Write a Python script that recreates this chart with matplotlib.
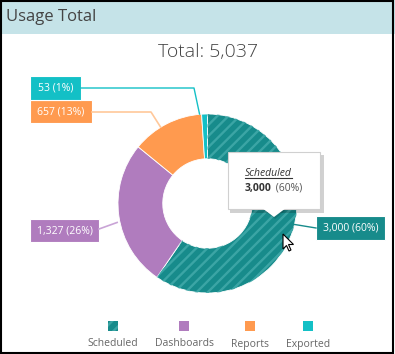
import matplotlib
matplotlib.use("Agg")
import matplotlib.pyplot as plt
from matplotlib.patches import Rectangle, Polygon, Wedge
import numpy as np

# data
categories = ["Scheduled", "Dashboards", "Reports", "Exported"]
values = [3000, 1327, 657, 53]
colors = ["#178b8b", "#b07cbe", "#ff9a4f", "#13c0c6"]
label_text = ["3,000 (60%)", "1,327 (26%)", "657 (13%)", "53 (1%)"]
total_text = "Total: 5,037"

plt.rcParams['font.family'] = ['Open Sans', 'DejaVu Sans']
plt.rcParams['hatch.linewidth'] = 1.7

W, H = 395, 354
fig = plt.figure(figsize=(W / 100, H / 100), dpi=100)

# background layer in pixel coordinates
bg = fig.add_axes([0, 0, 1, 1], zorder=0)
bg.set_xlim(0, W)
bg.set_ylim(H, 0)
bg.axis("off")
bg.add_patch(Rectangle((0, 0), W, 34, facecolor="#c5e3e8", edgecolor="none"))
bg.text(6, 17, "Usage Total", fontsize=12, color="#444444", va="center", ha="left")
bg.text(208, 52, total_text, fontsize=14, color="#444444", va="center", ha="center",
        fontweight="light")

# donut
cx, cy, R = 207.5, 203.5, 89.5
m = 1.05
pax = fig.add_axes([(cx - R * m) / W, (H - cy - R * m) / H, 2 * R * m / W, 2 * R * m / H], zorder=1)
wedges, _ = pax.pie(values, colors=colors, startangle=90, counterclock=False,
                    radius=1, wedgeprops=dict(width=0.5, edgecolor="white", linewidth=0.6))
# stripes on Scheduled
w0 = wedges[0]
hatch = Wedge(w0.center, w0.r, w0.theta1, w0.theta2, width=w0.width,
              facecolor="none", edgecolor="#3ba5a5", linewidth=0, hatch="///")
pax.add_patch(hatch)
pax.set_xlim(-m, m)
pax.set_ylim(-m, m)
pax.set_aspect("auto")
pax.axis("off")

# top layer in pixel coordinates
top = fig.add_axes([0, 0, 1, 1], zorder=2)
top.set_xlim(0, W)
top.set_ylim(H, 0)
top.axis("off")
top.patch.set_alpha(0)

to_px = pax.transData + top.transData.inverted()


def anchor(i, r=1.0):
    w = wedges[i]
    a = np.deg2rad((w.theta1 + w.theta2) / 2)
    return to_px.transform((r * np.cos(a), r * np.sin(a)))


line_colors = ["#178b8b", "#c9a4d6", "#ffc89a", "#13c0c6"]
boxes = [  # x, y, w, h
    (316, 216, 69, 24),
    (30, 219, 69, 23),
    (30, 100, 62, 23),
    (30, 76, 51, 24),
]
# leader lines
a0 = anchor(0, 1.02)
top.plot([a0[0], 316], [a0[1] - 6, 228], color=line_colors[0], lw=1)
a1 = anchor(1, 1.02)
top.plot([99, a1[0]], [229, a1[1] + 6], color=line_colors[1], lw=1.2)
a2 = anchor(2, 1.0)
top.plot([92, 151, a2[0] - 6], [112, 112, a2[1] + 3], color=line_colors[2], lw=1.2)
a3 = anchor(3, 1.0)
top.plot([81, 194, a3[0] - 5], [88, 88, a3[1]], color=line_colors[3], lw=1)

for (x, y, w, h), c, t in zip(boxes, colors, label_text):
    top.add_patch(Rectangle((x, y), w, h, facecolor=c, edgecolor="white", linewidth=0.8))
    top.text(x + w / 2, y + h / 2 + 0.5, t, color="white", fontsize=7.5, ha="center", va="center")

# tooltip
tx, ty, tw, th = 228, 152, 92, 57
top.add_patch(Rectangle((tx + 2, ty + 3), tw + 2, th + 1, facecolor="#000000", alpha=0.18,
                        edgecolor="none"))
top.add_patch(Polygon([[263, ty + th], [287, ty + th], [275, 219]], closed=True,
                      facecolor="#000000", alpha=0.15, edgecolor="none"))
top.add_patch(Rectangle((tx, ty), tw, th, facecolor="white", edgecolor="#d0d0d0", linewidth=0.8))
top.add_patch(Polygon([[262, ty + th - 1], [286, ty + th - 1], [274, 217]], closed=True,
                      facecolor="white", edgecolor="none"))
s = top.text(245, 176, "Scheduled", fontsize=7.5, style="italic", color="#333333",
             ha="left", va="baseline")
b = top.text(245, 191, "3,000", fontsize=7.5, fontweight="bold", color="#333333",
             ha="left", va="baseline")
fig.canvas.draw()
r = fig.canvas.get_renderer()
inv = top.transData.inverted()
se = inv.transform(s.get_window_extent(r))
top.plot([se[0][0], se[1][0]], [177.5, 177.5], color="#333333", lw=0.8)
be = inv.transform(b.get_window_extent(r))
top.text(be[1][0] + 1.5, 191, " (60%)", fontsize=7.5, color="#555555", ha="left", va="baseline")

# mouse cursor
cur = np.array([[0, 0], [0, 15], [3.5, 11.5], [6, 17], [8, 16], [5.5, 10.5], [10.5, 10.5]])
top.add_patch(Polygon(cur + [283, 234], closed=True, facecolor="white", edgecolor="black",
                      linewidth=0.8))

# legend
leg_x = [112.7, 184, 250, 308]
for i, (x, c, name) in enumerate(zip(leg_x, colors, categories)):
    top.add_patch(Rectangle((x - 5, 321), 10, 10, facecolor=c, edgecolor="none"))
    if i == 0:
        top.add_patch(Rectangle((x - 5, 321), 10, 10, facecolor="none", edgecolor="#3ba5a5",
                                linewidth=0, hatch="///"))
    top.text(x, 346.5, name, fontsize=7.5, color="#666666", ha="center", va="baseline")

# frame
top.add_patch(Rectangle((0.75, 0.75), W - 2.5, H - 2, facecolor="none", edgecolor="black",
                        linewidth=1.5))

fig.savefig("out.png", dpi=100)
